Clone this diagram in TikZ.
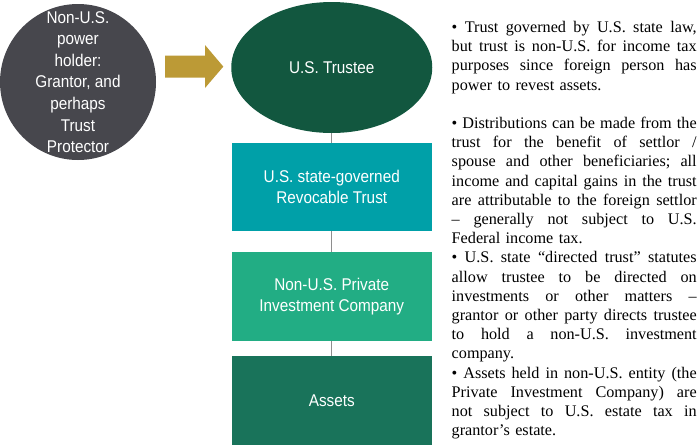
\documentclass[tikz,border=0pt]{standalone}
\usepackage{fontspec}
\setmainfont{Liberation Serif}
\newfontfamily\diagfont[FakeStretch=0.9]{Liberation Sans}
\usetikzlibrary{shapes.geometric}
\definecolor{holdergray}{HTML}{47474D}
\definecolor{arrowgold}{HTML}{BC9A36}
\definecolor{trusteegreen}{HTML}{12573F}
\definecolor{trustteal}{HTML}{00A0A8}
\definecolor{companygreen}{HTML}{22AD84}
\definecolor{assetsgreen}{HTML}{19735A}
\definecolor{linkgray}{HTML}{8E8E8E}
\newcommand{\jline}[1]{\leavevmode\hbox to 245pt{\spaceskip=0.25em plus 1fil\relax #1}}
\frenchspacing
\begin{document}
\begin{tikzpicture}[x=1pt,y=-1pt,
  diagtext/.style={text=white, font=\diagfont\fontsize{17}{21.6}\selectfont, align=center},
  entitybox/.style={diagtext, rectangle, minimum width=200.5pt, inner sep=0},
  link/.style={draw=linkgray, line width=1.4pt},
  notes/.style={anchor=north west, inner sep=0, text width=245pt, align=left,
    font=\fontsize{16.2}{19.2}\selectfont}
]
\useasboundingbox (0,0) rectangle (700,445);
% power holder circle
\node[circle, fill=holdergray, minimum size=156pt, inner sep=0] (holder) at (78,82) {};
\node[diagtext, inner sep=0] (holdertext) at (holder.center)
  {Non-U.S.\\power\\holder:\\Grantor, and\\perhaps\\Trust\\Protector};
% block arrow
\fill[arrowgold] (165,55.7) -- (205,55.7) -- (205,45) -- (223.3,66.6)
  -- (205,88) -- (205,77.7) -- (165,77.7) -- cycle;
% trustee ellipse
\node[diagtext, ellipse, fill=trusteegreen, minimum width=201pt, minimum height=131pt, inner sep=0]
  (trustee) at (331.75,67.5) {U.S. Trustee};
% boxes
\node[entitybox, fill=trustteal, minimum height=88pt] (trust) at (331.75,187)
  {U.S. state-governed\\Revocable Trust};
\node[entitybox, fill=companygreen, minimum height=89pt] (company) at (331.75,296.5)
  {Non-U.S. Private\\Investment Company};
\node[entitybox, fill=assetsgreen, minimum height=89pt] (assets) at (331.75,400.5)
  {Assets};
% connectors
\draw[link] (trustee.south) -- (trust.north);
\draw[link] (trust.south) -- (company.north);
\draw[link] (company.south) -- (assets.north);
% notes
\node[notes] (notestext) at (451.5,21) {%
\jline{• Trust governed by U.S. state law,}\\
\jline{but trust is non-U.S. for income tax}\\
\jline{purposes since foreign person has}\\
power to revest assets.\\[19.2pt]
\jline{• Distributions can be made from the}\\
\jline{trust for the benefit of settlor /}\\
\jline{spouse and other beneficiaries; all}\\
\jline{income and capital gains in the trust}\\
\jline{are attributable to the foreign settlor}\\
\jline{– generally not subject to U.S.}\\
Federal income tax.\\
\jline{• U.S. state “directed trust” statutes}\\
\jline{allow trustee to be directed on}\\
\jline{investments or other matters –}\\
\jline{grantor or other party directs trustee}\\
\jline{to hold a non-U.S. investment}\\
company.\\
\jline{• Assets held in non-U.S. entity (the}\\
\jline{Private Investment Company) are}\\
\jline{not subject to U.S. estate tax in}\\
grantor’s estate.};
\end{tikzpicture}
\end{document}
